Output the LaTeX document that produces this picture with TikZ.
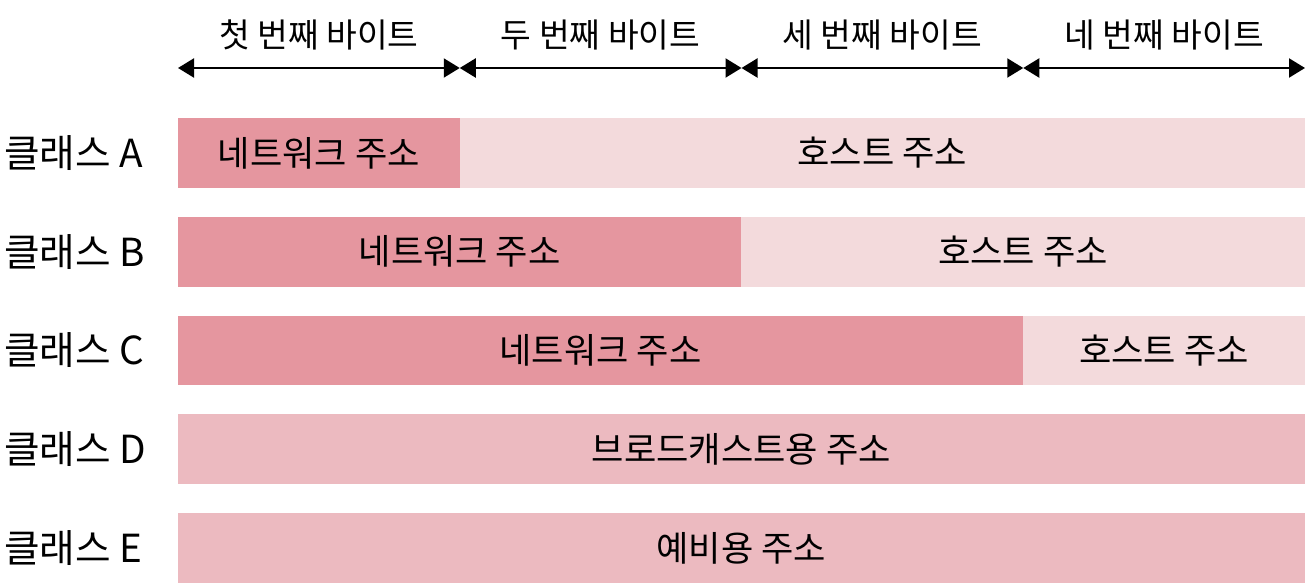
\documentclass[tikz,border=0pt]{standalone}
\usepackage{fontspec}
\setmainfont{Noto Sans CJK KR}
\usepackage{xcolor}
\usetikzlibrary{positioning,arrows.meta}
\definecolor{netpink}{RGB}{229,150,159}
\definecolor{hostpink}{RGB}{243,218,220}
\definecolor{fullpink}{RGB}{236,186,192}
\tikzset{
  bar/.style={anchor=north west, inner sep=0pt, outer sep=0pt, minimum height=1.4cm, font=\fontsize{20}{24}\selectfont},
  netbox/.style={bar, fill=netpink},
  hostbox/.style={bar, fill=hostpink},
  fullbox/.style={bar, fill=fullpink, minimum width=22.54cm},
  classlabel/.style={anchor=west, inner sep=0pt, font=\fontsize{22}{26}\selectfont},
  bytelabel/.style={inner sep=0pt, font=\fontsize{19}{23}\selectfont},
  arr/.style={{Triangle[length=3.2mm, width=3.8mm]}-{Triangle[length=3.2mm, width=3.8mm]}, line width=1.2pt, draw=black},
}
\begin{document}
\begin{tikzpicture}[x=0.02cm, y=-0.02cm]
    \useasboundingbox (0,0) rectangle (1314,584);
    % byte ruler
    \coordinate (b0) at (178,68);
    \coordinate (b1) at (459.75,68);
    \coordinate (b2) at (741.5,68);
    \coordinate (b3) at (1023.25,68);
    \coordinate (b4) at (1305,68);
    \draw[arr] (b0) -- (b1);
    \draw[arr] (b1) -- (b2);
    \draw[arr] (b2) -- (b3);
    \draw[arr] (b3) -- (b4);
    \node[bytelabel] (byte1) at (318.9,35) {첫 번째 바이트};
    \node[bytelabel] (byte2) at (600.6,35) {두 번째 바이트};
    \node[bytelabel] (byte3) at (882.4,35) {세 번째 바이트};
    \node[bytelabel] (byte4) at (1164.1,35) {네 번째 바이트};
    % class A
    \node[netbox, minimum width=5.635cm] (netA) at (178,118) {네트워크 주소};
    \node[hostbox, minimum width=16.905cm] (hostA) at (netA.north east) {호스트 주소};
    % class B
    \node[netbox, minimum width=11.27cm] (netB) at (178,216.75) {네트워크 주소};
    \node[hostbox, minimum width=11.27cm] (hostB) at (netB.north east) {호스트 주소};
    % class C
    \node[netbox, minimum width=16.905cm] (netC) at (178,315.5) {네트워크 주소};
    \node[hostbox, minimum width=5.635cm] (hostC) at (netC.north east) {호스트 주소};
    % class D, E
    \node[fullbox] (bcD) at (178,414.25) {브로드캐스트용 주소};
    \node[fullbox] (resE) at (178,513) {예비용 주소};
    % class labels
    \node[classlabel] (clsA) at (4,153) {클래스 A};
    \node[classlabel] (clsB) at (4,251.75) {클래스 B};
    \node[classlabel] (clsC) at (4,350.5) {클래스 C};
    \node[classlabel] (clsD) at (4,449.25) {클래스 D};
    \node[classlabel] (clsE) at (4,548) {클래스 E};
  \end{tikzpicture}
\end{document}
